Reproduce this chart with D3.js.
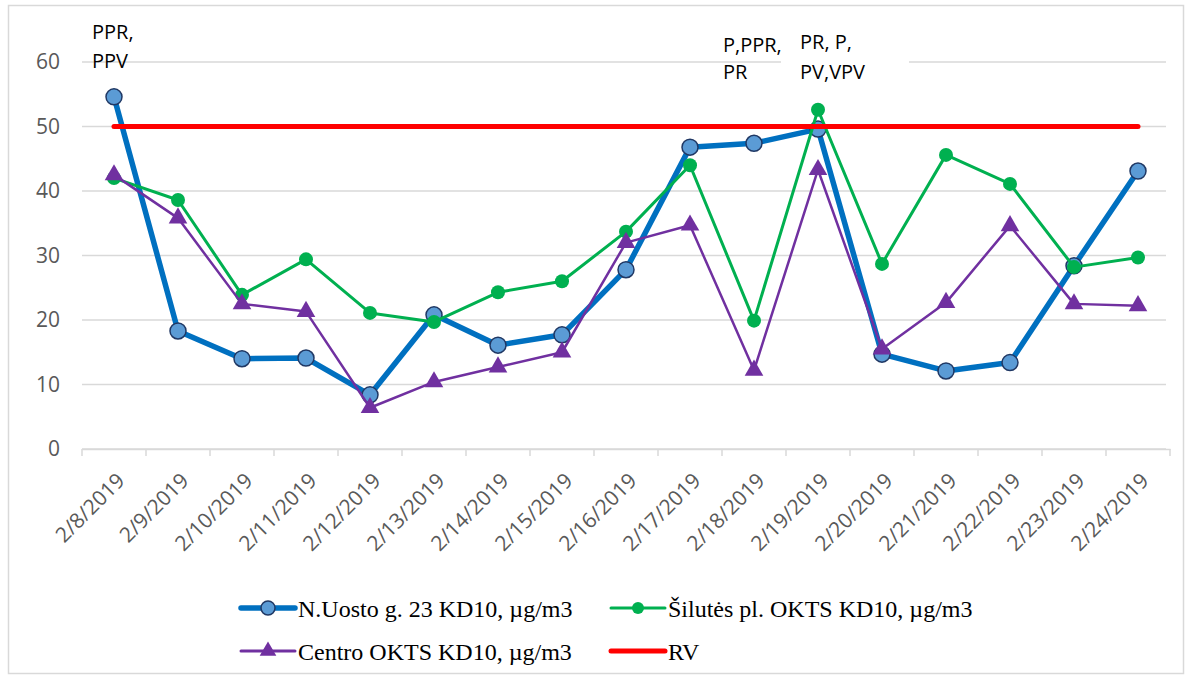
<!DOCTYPE html>
<html>
<head>
<meta charset="utf-8">
<script src="https://cdn.jsdelivr.net/npm/d3@7"></script>
<style>
  body { margin: 0; background: #fff; }
</style>
</head>
<body>
<div id="plot"></div>
<script>
const dates = ["2/8/2019", "2/9/2019", "2/10/2019", "2/11/2019", "2/12/2019", "2/13/2019",
  "2/14/2019", "2/15/2019", "2/16/2019", "2/17/2019", "2/18/2019", "2/19/2019",
  "2/20/2019", "2/21/2019", "2/22/2019", "2/23/2019", "2/24/2019"];

const uosto = [54.6, 18.3, 14.0, 14.1, 8.4, 20.8, 16.1, 17.7, 27.8, 46.8, 47.4, 49.6, 14.7, 12.1, 13.4, 28.4, 43.1];
const silutes = [42.0, 38.6, 23.9, 29.4, 21.1, 19.7, 24.3, 26.0, 33.7, 44.0, 19.9, 52.6, 28.7, 45.6, 41.1, 28.2, 29.7];
const centro = [42.5, 35.8, 22.5, 21.3, 6.4, 10.4, 12.7, 15.0, 32.0, 34.7, 12.2, 43.3, 15.5, 22.7, 34.6, 22.5, 22.2];
const rv = dates.map(() => 50);

const yTicks = [0, 10, 20, 30, 40, 50, 60];

// notes above some days
const notes = [
  { date: "2/8/2019", lines: ["PPR,", "PPV"], dx: -22, y: 39, gap: 29, box: false },
  { date: "2/18/2019", lines: ["P,PPR,", "PR"], dx: -31, y: 52, gap: 27, box: false },
  { date: "2/19/2019", lines: ["PR, P,", "PV,VPV"], dx: -18, y: 49, gap: 30, box: true }
];

const width = 1192, height = 679;

const svg = d3.select('#plot')
  .append('svg')
    .attr('width', width)
    .attr('height', height)
    .style('font-family', '"Open Sans", "Noto Sans", sans-serif');

// chart border
svg.append('rect')
  .attr('x', 8.5).attr('y', 5.5)
  .attr('width', 1175).attr('height', 668)
  .attr('fill', 'none')
  .attr('stroke', '#d9d9d9')
  .attr('stroke-width', 1.5);

const x = d3.scaleBand()
  .domain(dates)
  .range([82, 1170]);

const y = d3.scaleLinear()
  .domain([0, 60])
  .range([449, 62]);

// gridlines
svg.append('g')
  .selectAll('line')
  .data(yTicks)
  .enter()
  .append('line')
    .attr('x1', 82).attr('x2', 1166)
    .attr('y1', d => y(d)).attr('y2', d => y(d))
    .attr('stroke', '#d9d9d9')
    .attr('stroke-width', 1.5);

// y axis labels
let yAxis = svg.append('g')
  .attr('transform', 'translate(60,0)')
  .call(d3.axisLeft(y).tickValues(yTicks).tickSize(0).tickPadding(0));
yAxis.select('.domain').remove();
yAxis.selectAll('text')
  .attr('fill', '#595959')
  .attr('font-size', '21px')
  .attr('font-family', '"Open Sans", "Noto Sans", sans-serif');

// x axis
let xAxis = svg.append('g')
  .attr('transform', `translate(0,${y(0)})`)
  .call(d3.axisBottom(x).tickSize(0).tickFormat(''));
xAxis.select('.domain').attr('stroke', '#d9d9d9').attr('stroke-width', 1.5);

// boundary ticks
svg.append('g')
  .selectAll('line')
  .data(dates.concat(['end']))
  .enter()
  .append('line')
    .attr('x1', (d, i) => x.range()[0] + i * x.step())
    .attr('x2', (d, i) => x.range()[0] + i * x.step())
    .attr('y1', y(0)).attr('y2', y(0) + 7)
    .attr('stroke', '#d9d9d9')
    .attr('stroke-width', 1.5);

svg.append('g')
  .selectAll('text')
  .data(dates)
  .enter()
  .append('text')
    .attr('transform', d => `translate(${x(d) + x.bandwidth() / 2 + 12},${y(0) + 33}) rotate(-45)`)
    .attr('text-anchor', 'end')
    .attr('fill', '#595959')
    .attr('font-size', '21px')
    .text(d => d);

const cx = d => x(d) + x.bandwidth() / 2;

function drawLine(values, color, w) {
  svg.append('path')
    .datum(values)
    .attr('fill', 'none')
    .attr('stroke', color)
    .attr('stroke-width', w)
    .attr('stroke-linejoin', 'round')
    .attr('stroke-linecap', 'round')
    .attr('d', d3.line().x((d, i) => cx(dates[i])).y(d => y(d)));
}

// N.Uosto
drawLine(uosto, '#0070C0', 5.5);
svg.append('g')
  .selectAll('circle')
  .data(uosto)
  .enter()
  .append('circle')
    .attr('cx', (d, i) => cx(dates[i]))
    .attr('cy', d => y(d))
    .attr('r', 8)
    .attr('fill', '#5B9BD5')
    .attr('stroke', '#203864')
    .attr('stroke-width', 1.5);

// Silutes
drawLine(silutes, '#00B050', 3);
svg.append('g')
  .selectAll('circle')
  .data(silutes)
  .enter()
  .append('circle')
    .attr('cx', (d, i) => cx(dates[i]))
    .attr('cy', d => y(d))
    .attr('r', 7)
    .attr('fill', '#00B050');

// Centro
const tri = d3.symbol().type(d3.symbolTriangle).size(150);
drawLine(centro, '#7030A0', 2.5);
svg.append('g')
  .selectAll('path')
  .data(centro)
  .enter()
  .append('path')
    .attr('transform', (d, i) => `translate(${cx(dates[i])},${y(d)})`)
    .attr('d', tri)
    .attr('fill', '#7030A0');

// RV
drawLine(rv, '#FF0000', 5);

// notes
notes.forEach(n => {
  const nx = cx(n.date) + n.dx;
  if (n.box) {
    svg.append('rect')
      .attr('x', nx - 19).attr('y', n.y - 27)
      .attr('width', 128).attr('height', 66)
      .attr('fill', '#fff');
  }
  const t = svg.append('text')
    .attr('x', nx)
    .attr('y', n.y)
    .attr('font-size', '20px')
    .attr('fill', '#000');
  n.lines.forEach((l, i) => {
    t.append('tspan')
      .attr('x', nx)
      .attr('dy', i === 0 ? 0 : n.gap)
      .text(l);
  });
});

// legend
const legend = [
  { name: 'N.Uosto g. 23 KD10, µg/m3', color: '#0070C0', w: 5.5, mark: 'big', lx: 241, ly: 608 },
  { name: 'Šilutės pl. OKTS KD10, µg/m3', color: '#00B050', w: 3, mark: 'dot', lx: 611, ly: 608 },
  { name: 'Centro OKTS KD10, µg/m3', color: '#7030A0', w: 3, mark: 'tri', lx: 241, ly: 651 },
  { name: 'RV', color: '#FF0000', w: 5, mark: 'none', lx: 611, ly: 651 }
];

const lg = svg.append('g').selectAll('g')
  .data(legend)
  .enter()
  .append('g')
    .attr('transform', d => `translate(${d.lx},${d.ly})`);

lg.append('line')
  .attr('x1', 0).attr('x2', 54)
  .attr('stroke', d => d.color)
  .attr('stroke-width', d => d.w)
  .attr('stroke-linecap', 'round');

lg.filter(d => d.mark === 'big').append('circle')
  .attr('cx', 27).attr('r', 7)
  .attr('fill', '#5B9BD5').attr('stroke', '#203864').attr('stroke-width', 1.5);
lg.filter(d => d.mark === 'dot').append('circle')
  .attr('cx', 27).attr('r', 6)
  .attr('fill', '#00B050');
lg.filter(d => d.mark === 'tri').append('path')
  .attr('transform', 'translate(27,0)')
  .attr('d', d3.symbol().type(d3.symbolTriangle).size(120))
  .attr('fill', '#7030A0');

lg.append('text')
  .attr('x', 57)
  .attr('y', 9)
  .attr('font-family', '"Liberation Serif", "Times New Roman", serif')
  .attr('font-size', '24px')
  .attr('fill', '#000')
  .text(d => d.name);
</script>
</body>
</html>
